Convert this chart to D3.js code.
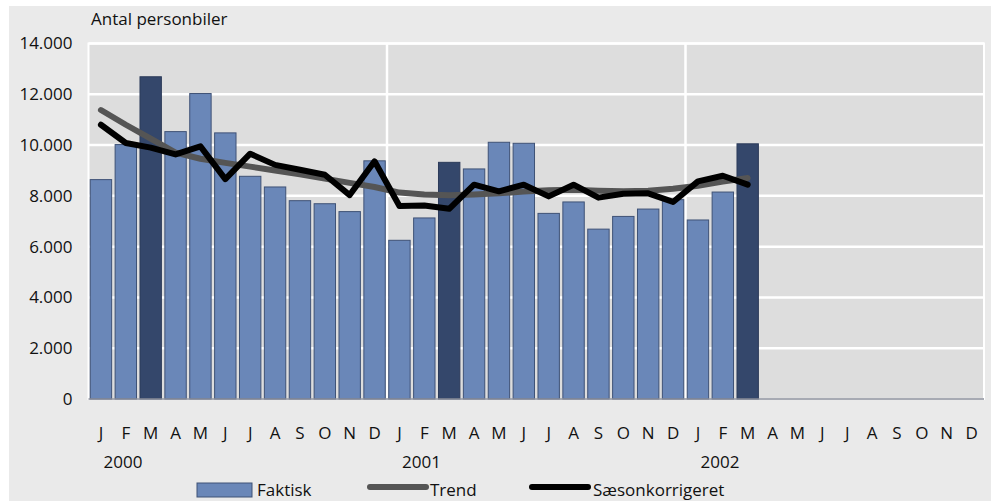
<!DOCTYPE html>
<html><head><meta charset="utf-8">
<script src="https://cdn.jsdelivr.net/npm/d3@7"></script>
<style>
html,body{margin:0;padding:0;background:#fff;}
svg{display:block;}
text{font-family:"Open Sans","Noto Sans",sans-serif;fill:#111;}
</style></head>
<body>
<svg id="chart" width="995" height="501"></svg>
<script>
const months = ["J","F","M","A","M","J","J","A","S","O","N","D",
                "J","F","M","A","M","J","J","A","S","O","N","D",
                "J","F","M","A","M","J","J","A","S","O","N","D"];
const years = ["2000","2001","2002"];
const faktisk = [8640,10020,12690,10530,12030,10480,8770,8350,7810,7690,7380,9380,
                 6250,7130,9320,9060,10110,10070,7310,7760,6690,7190,7480,7850,
                 7050,8150,10050];
const trend = [11380,10800,10250,9700,9460,9300,9150,9000,8850,8680,8510,8350,
               8130,8050,8020,8050,8100,8170,8220,8240,8200,8180,8200,8280,
               8400,8560,8700];
const saeson = [10800,10080,9900,9630,9950,8660,9660,9220,9030,8830,8030,9360,
                7600,7620,7490,8440,8180,8440,7980,8440,7930,8080,8100,7760,
                8570,8790,8440];
const yTicks = [0,2000,4000,6000,8000,10000,12000,14000];
const tickLabels = ["0","2.000","4.000","6.000","8.000","10.000","12.000","14.000"];
const darkMonths = [2,14,26];
const seriesNames = ["Faktisk","Trend","Sæsonkorrigeret"];
const yTitle = "Antal personbiler";

const FONT = "'Open Sans','Noto Sans',sans-serif";
const svg = d3.select("#chart");
const L = 88.5, R = 984, T = 43.5, B = 399;

svg.append("rect").attr("x",9).attr("y",6).attr("width",982).attr("height",495).attr("fill","#eaeaea");
svg.append("rect").attr("x",L).attr("y",T).attr("width",R-L).attr("height",B-T)
  .attr("fill","#dddddd").attr("stroke","#ffffff").attr("stroke-width",2);

const x = d3.scaleBand().domain(d3.range(months.length)).range([L,R]).paddingInner(0.14).paddingOuter(0.07);
const y = d3.scaleLinear().domain([0,14000]).range([B,T]);

// gridlines
svg.append("g").selectAll("line").data(yTicks.slice(1)).join("line")
  .attr("x1",L).attr("x2",R).attr("y1",d=>y(d)).attr("y2",d=>y(d))
  .attr("stroke","#ffffff").attr("stroke-width",2.5);
const step = x.step();
svg.append("g").selectAll("line").data([12,24]).join("line")
  .attr("x1",d=>L+d*step).attr("x2",d=>L+d*step).attr("y1",T).attr("y2",B)
  .attr("stroke","#ffffff").attr("stroke-width",2.5);

// y axis labels
const yAxis = d3.axisLeft(y).tickValues(yTicks).tickSize(0).tickPadding(0)
  .tickFormat((d,i)=>tickLabels[i]);
const gy = svg.append("g").attr("transform",`translate(${L-16},0)`).call(yAxis);
gy.select(".domain").remove();
gy.selectAll("text").attr("font-size",17).attr("font-family",FONT).attr("fill","#111");

// bars
svg.append("g").selectAll("rect").data(faktisk).join("rect")
  .attr("x",(d,i)=>x(i)).attr("width",x.bandwidth())
  .attr("y",d=>y(d)).attr("height",d=>B-y(d))
  .attr("fill",(d,i)=>darkMonths.includes(i)?"#34476b":"#6a87b8")
  .attr("stroke",(d,i)=>darkMonths.includes(i)?"#2c3b5a":"#3f5276").attr("stroke-width",1);

// baseline
svg.append("line").attr("x1",L).attr("x2",R).attr("y1",B).attr("y2",B)
  .attr("stroke","#8a8e9a").attr("stroke-width",1.5);

const cx = i => x(i)+x.bandwidth()/2;
const line = d3.line().x((d,i)=>cx(i)).y(d=>y(d));
svg.append("path").datum(trend).attr("d",line).attr("fill","none")
  .attr("stroke","#555555").attr("stroke-width",6).attr("stroke-linejoin","round").attr("stroke-linecap","round");
svg.append("path").datum(saeson).attr("d",line).attr("fill","none")
  .attr("stroke","#000000").attr("stroke-width",6).attr("stroke-linejoin","round").attr("stroke-linecap","round");

// x axis labels
const xAxis = d3.axisBottom(x).tickSize(0).tickPadding(0).tickFormat(i=>months[i]);
const gx = svg.append("g").attr("transform",`translate(0,${B+28})`).call(xAxis);
gx.select(".domain").remove();
gx.selectAll("text").attr("font-size",17).attr("font-family",FONT).attr("fill","#111");

svg.append("g").selectAll("text").data(years).join("text")
  .attr("x",(d,i)=>L+i*12*step+15).attr("y",468).attr("font-size",17).text(d=>d);

svg.append("text").attr("x",91).attr("y",25).attr("font-size",17).text(yTitle);

// legend
const lg = svg.append("g");
lg.append("rect").attr("x",197).attr("y",483).attr("width",55).attr("height",14)
  .attr("fill","#6a87b8").attr("stroke","#3f5276");
lg.append("text").attr("x",257).attr("y",496).attr("font-size",17).text(seriesNames[0]);
lg.append("line").attr("x1",370).attr("x2",426).attr("y1",487).attr("y2",487)
  .attr("stroke","#555555").attr("stroke-width",6).attr("stroke-linecap","round");
lg.append("text").attr("x",430).attr("y",496).attr("font-size",17).text(seriesNames[1]);
lg.append("line").attr("x1",532).attr("x2",588).attr("y1",487).attr("y2",487)
  .attr("stroke","#000").attr("stroke-width",6).attr("stroke-linecap","round");
lg.append("text").attr("x",593).attr("y",496).attr("font-size",17).text(seriesNames[2]);
</script>
</body></html>
